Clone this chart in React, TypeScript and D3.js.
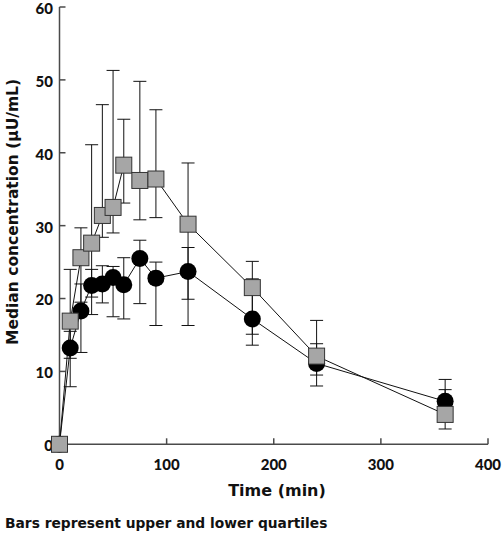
import React from "react";
import * as d3 from "d3";

const times = [0, 10, 20, 30, 40, 50, 60, 75, 90, 120, 180, 240, 360];
const squareMedian = [0, 16.9, 25.6, 27.6, 31.4, 32.5, 38.3, 36.2, 36.4, 30.2, 21.5, 12.1, 4.1];
const squareUpper = [0, 24.0, 29.7, 41.1, 46.6, 51.3, 44.6, 49.8, 45.9, 38.6, 25.1, 17.0, 7.5];
const squareLower = [0, 11.8, 19.5, 20.2, 28.4, 29.0, 33.1, 30.8, 31.1, 19.9, 15.1, 9.5, 2.1];
const circleMedian = [0, 13.2, 18.3, 21.8, 22.0, 22.9, 21.9, 25.5, 22.8, 23.7, 17.2, 11.1, 5.9];
const circleUpper = [0, 15.5, 22.0, 24.0, 24.5, 24.4, 25.6, 28.0, 25.0, 27.0, 22.7, 13.8, 8.9];
const circleLower = [0, 7.9, 12.6, 17.8, 19.4, 17.5, 17.2, 19.3, 16.3, 16.3, 13.6, 8.0, 4.5];

const xTicks = [0, 100, 200, 300, 400];
const yTicks = [0, 10, 20, 30, 40, 50, 60];

const xLabel = "Time (min)";
const yLabel = "Median concentration (μU/mL)";
const footnote = "Bars represent upper and lower quartiles";

const TICK_FONT = "Lato, 'Open Sans', sans-serif";
const LABEL_FONT = "'DejaVu Sans', Verdana, sans-serif";

export default function App() {
  const x = d3.scaleLinear().domain([0, 400]).range([59.5, 488]);
  const y = d3.scaleLinear().domain([0, 60]).range([444.3, 7]);
  const line = d3
    .line<number>()
    .x((_, i) => x(times[i]))
    .y((v) => y(v));

  const capW = 6.5;
  const axisColor = "#4a4a4a";

  const errorBars = (lo: number[], hi: number[], key: string) =>
    times.map((t, i) => {
      if (i === 0) return null;
      const cx = x(t);
      return (
        <g key={key + i} stroke="#111" strokeWidth={1} fill="none">
          <line x1={cx} x2={cx} y1={y(hi[i])} y2={y(lo[i])} />
          <line x1={cx - capW} x2={cx + capW} y1={y(hi[i])} y2={y(hi[i])} />
          <line x1={cx - capW} x2={cx + capW} y1={y(lo[i])} y2={y(lo[i])} />
        </g>
      );
    });

  return (
    <svg
      width={502}
      height={534}
      style={{ position: "absolute", left: 0, top: 0, background: "#fff" }}
    >
      <rect x={0} y={0} width={502} height={534} fill="#fff" />
      {/* axes */}
      <line x1={x(0)} x2={x(0)} y1={y(60)} y2={y(0)} stroke={axisColor} strokeWidth={1.5} />
      <line x1={x(0)} x2={x(400)} y1={y(0)} y2={y(0)} stroke={axisColor} strokeWidth={1.5} />
      {yTicks.map((t) => (
        <g key={"yt" + t}>
          <line x1={x(0)} x2={x(0) + 6} y1={y(t)} y2={y(t)} stroke={axisColor} strokeWidth={1.5} />
          <text
            x={53}
            y={y(t) + 1.5}
            dy="0.36em"
            textAnchor="end"
            fontFamily={TICK_FONT}
            fontSize={15}
            fontWeight={900}
            fill="#111"
          >
            {t}
          </text>
        </g>
      ))}
      {xTicks.map((t) => (
        <g key={"xt" + t}>
          <line x1={x(t)} x2={x(t)} y1={y(0)} y2={y(0) - 6} stroke={axisColor} strokeWidth={1.5} />
          <text
            x={x(t)}
            y={470}
            textAnchor="middle"
            fontFamily={TICK_FONT}
            fontSize={15}
            fontWeight={900}
            fill="#111"
          >
            {t}
          </text>
        </g>
      ))}
      <text
        x={277}
        y={496}
        textAnchor="middle"
        fontFamily={LABEL_FONT}
        fontSize={16}
        fontWeight="bold"
        fill="#111"
      >
        {xLabel}
      </text>
      <text
        transform={`translate(17.5,212) rotate(-90)`}
        textAnchor="middle"
        fontFamily={LABEL_FONT}
        fontSize={15.5}
        fontWeight="bold"
        fill="#111"
      >
        {yLabel}
      </text>
      <text x={5} y={528} fontFamily={LABEL_FONT} fontSize={13.8} fontWeight="bold" fill="#111">
        {footnote}
      </text>

      {/* error bars */}
      {errorBars(circleLower, circleUpper, "c")}
      {errorBars(squareLower, squareUpper, "s")}

      {/* lines */}
      <path d={line(circleMedian) || ""} fill="none" stroke="#111" strokeWidth={1} />
      <path d={line(squareMedian) || ""} fill="none" stroke="#111" strokeWidth={1} />

      {/* markers */}
      {circleMedian.map((v, i) => (
        <circle key={"c" + i} cx={x(times[i])} cy={y(v)} r={8.5} fill="#000" />
      ))}
      {squareMedian.map((v, i) => (
        <rect
          key={"s" + i}
          x={x(times[i]) - 8}
          y={y(v) - 8}
          width={16}
          height={16}
          fill="#a6a6a6"
          stroke="#333"
          strokeWidth={1}
        />
      ))}
    </svg>
  );
}
